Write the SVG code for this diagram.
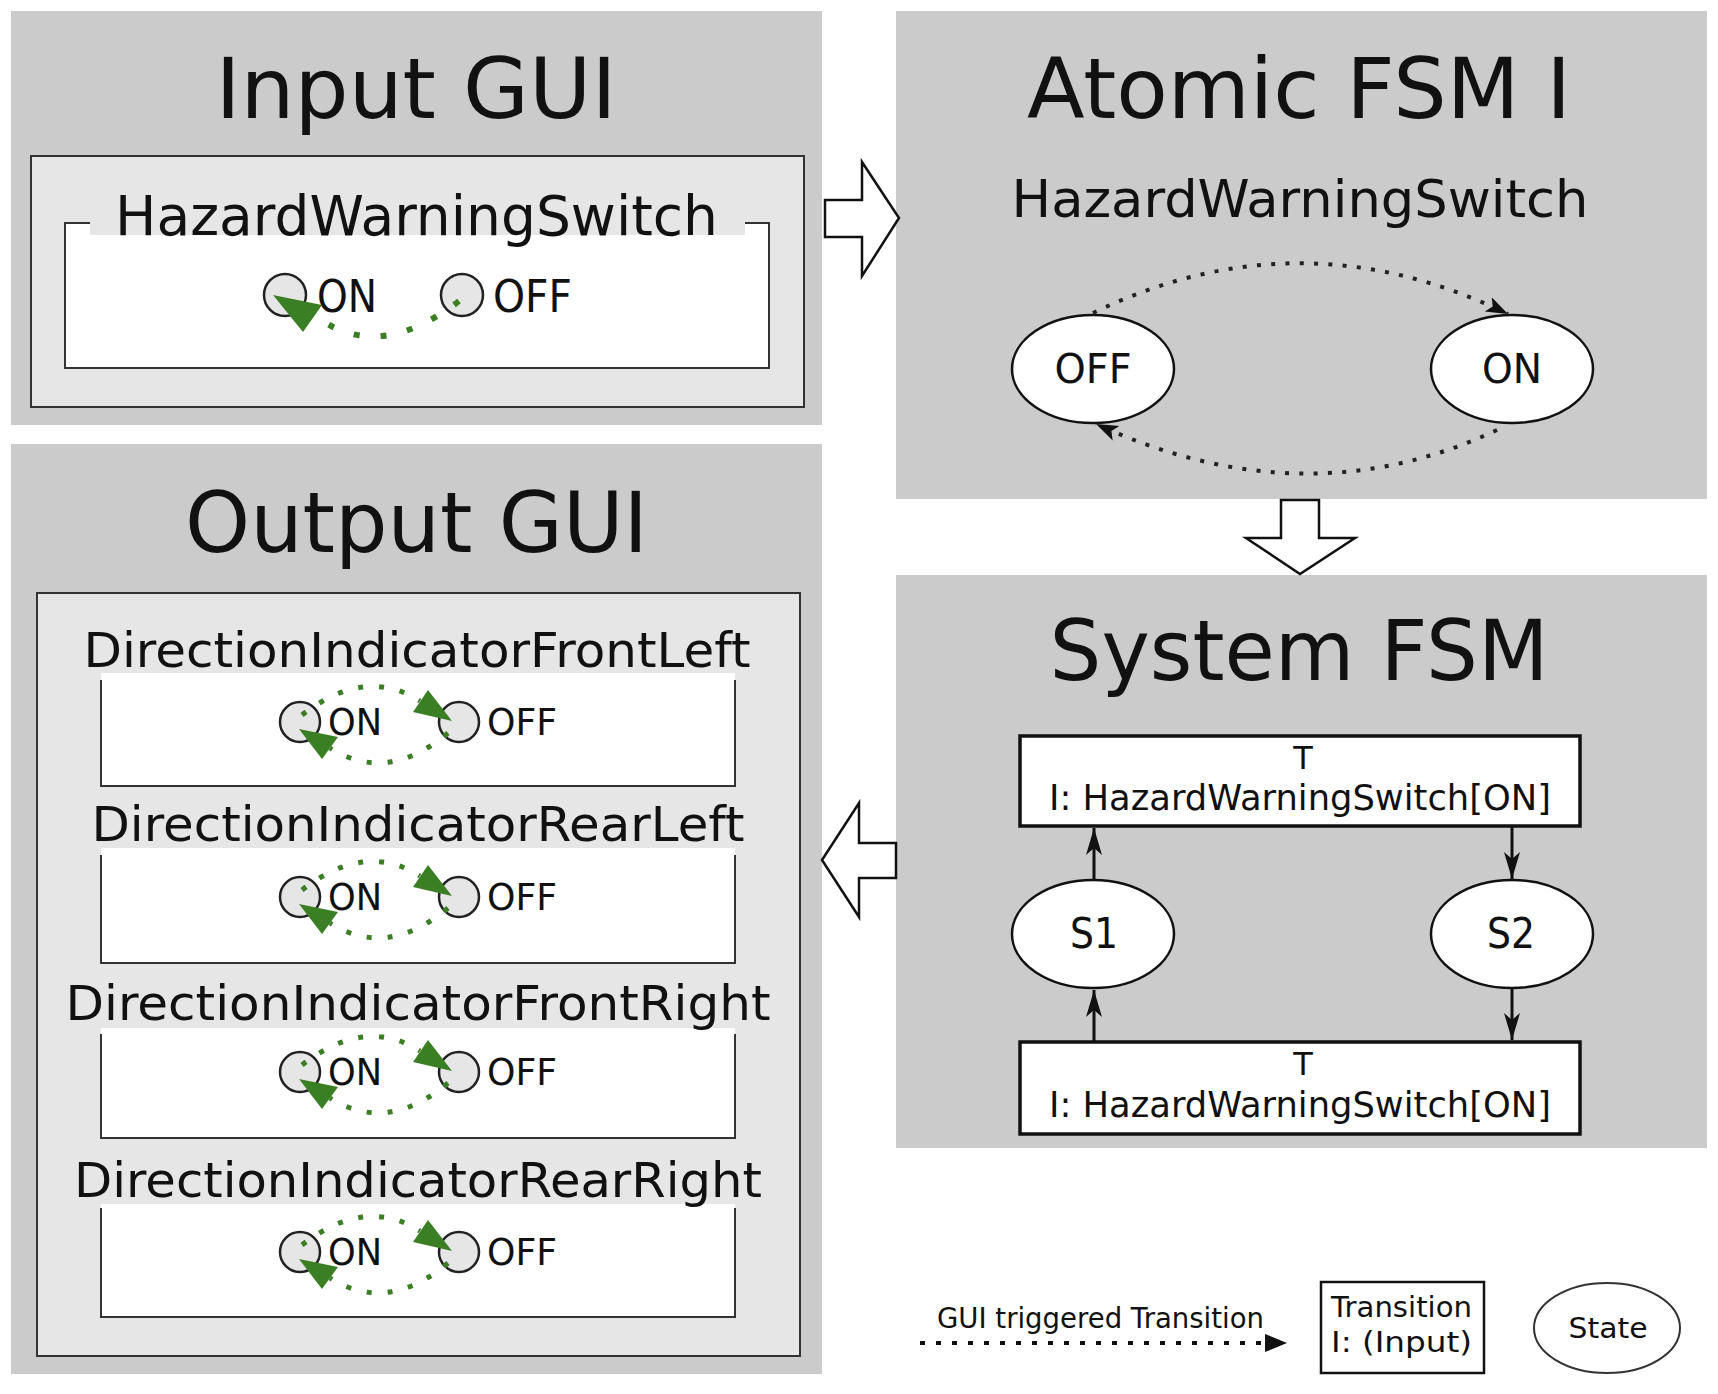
<svg xmlns="http://www.w3.org/2000/svg" width="1718" height="1394" viewBox="0 0 1718 1394">
<defs>
<style>
text{font-family:"DejaVu Sans","Liberation Sans",sans-serif;fill:#111}
.panel{fill:#cbcbcb}
.inner{fill:#e6e6e6;stroke:#333;stroke-width:2}
.band{fill:#e6e6e6}
.gbox{fill:#fff}
.gline{fill:none;stroke:#333;stroke-width:2}
.title{font-size:84px;text-anchor:middle}
.radio{fill:#e6e6e6;stroke:#222;stroke-width:2.5}
.gdot{fill:none;stroke:#3b7f24;stroke-linecap:butt}
.ghead{fill:#3b7f24}
.state{fill:#fff;stroke:#111;stroke-width:2.5}
.trans{fill:#fff;stroke:#111;stroke-width:3.5}
.bdot{fill:none;stroke:#222;stroke-width:4;stroke-dasharray:4 10.3}
.edge{fill:none;stroke:#111;stroke-width:3}
.big{fill:#fff;stroke:#111;stroke-width:2.5;stroke-linejoin:miter}
</style>
<marker id="bh" markerUnits="userSpaceOnUse" markerWidth="24" markerHeight="20" viewBox="0 0 24 20" refX="22" refY="10" orient="auto">
<path d="M0,2 L22,10 L0,18 L5,10 z" fill="#111"/>
</marker>
<marker id="sh" markerUnits="userSpaceOnUse" markerWidth="28" markerHeight="18" viewBox="0 0 28 18" refX="27" refY="9" orient="auto">
<path d="M0,1 L27,9 L0,17 L7,9 z" fill="#111"/>
</marker>
<g id="radioOut">
<circle class="radio" cx="0" cy="0" r="20"/>
<circle class="radio" cx="159" cy="0" r="20"/>
<text x="28" y="13" font-size="38" textLength="54" lengthAdjust="spacingAndGlyphs">ON</text>
<text x="187" y="13" font-size="38" textLength="70" lengthAdjust="spacingAndGlyphs">OFF</text>
<path class="gdot" d="M2,-7 Q65,-56 120,-21" stroke-width="5" stroke-dasharray="5 16"/>
<polygon class="ghead" points="128,-32 113,-10 152,-1"/>
<path class="gdot" d="M148,11 Q87,62 30,26" stroke-width="5" stroke-dasharray="5 16"/>
<polygon class="ghead" points="-1,7 38,15 22,37"/>
</g>
</defs>

<rect width="1718" height="1394" fill="#fff"/>

<g id="input-gui">
<rect class="panel" x="11" y="11" width="811" height="414"/>
<text class="title" x="416" y="118" textLength="401" lengthAdjust="spacingAndGlyphs">Input GUI</text>
<rect class="inner" x="31" y="156" width="773" height="251"/>
<g id="hazard-switch-gui">
<rect class="gbox" x="65" y="223" width="704" height="145"/>
<path class="gline" d="M90,223 H65 V368 H769 V223 H745"/>
<rect class="band" x="90" y="185" width="655" height="50"/>
<text x="416.5" y="235" font-size="55" text-anchor="middle" textLength="603" lengthAdjust="spacingAndGlyphs">HazardWarningSwitch</text>
<circle class="radio" cx="285" cy="295" r="21"/>
<circle class="radio" cx="462" cy="295" r="21"/>
<text x="317" y="312" font-size="44" textLength="60" lengthAdjust="spacingAndGlyphs">ON</text>
<text x="493" y="312" font-size="44" textLength="79" lengthAdjust="spacingAndGlyphs">OFF</text>
<path class="gdot" d="M459,301 Q380,362 318,318" stroke-width="6" stroke-dasharray="6 21"/>
<polygon class="ghead" points="273,295 322,305 303,332"/>
</g>
</g>

<g id="output-gui">
<rect class="panel" x="11" y="444" width="811" height="930"/>
<text class="title" x="416.5" y="552" textLength="463" lengthAdjust="spacingAndGlyphs">Output GUI</text>
<rect class="inner" x="37" y="593" width="763" height="763"/>
<g id="di-front-left">
<rect class="gbox" x="101" y="673" width="634" height="113"/>
<path class="gline" d="M101,680 V786 H735 V680"/>
<text x="417" y="667" font-size="48" text-anchor="middle" textLength="667" lengthAdjust="spacingAndGlyphs">DirectionIndicatorFrontLeft</text>
<use href="#radioOut" x="300" y="722"/>
</g>
<g id="di-rear-left">
<rect class="gbox" x="101" y="848" width="634" height="115"/>
<path class="gline" d="M101,855 V963 H735 V855"/>
<text x="418" y="841" font-size="48" text-anchor="middle" textLength="653" lengthAdjust="spacingAndGlyphs">DirectionIndicatorRearLeft</text>
<use href="#radioOut" x="300" y="897"/>
</g>
<g id="di-front-right">
<rect class="gbox" x="101" y="1028" width="634" height="110"/>
<path class="gline" d="M101,1034 V1138 H735 V1034"/>
<text x="418" y="1020" font-size="48" text-anchor="middle" textLength="705" lengthAdjust="spacingAndGlyphs">DirectionIndicatorFrontRight</text>
<use href="#radioOut" x="300" y="1072"/>
</g>
<g id="di-rear-right">
<rect class="gbox" x="101" y="1204" width="634" height="113"/>
<path class="gline" d="M101,1208 V1317 H735 V1208"/>
<text x="418" y="1197" font-size="48" text-anchor="middle" textLength="688" lengthAdjust="spacingAndGlyphs">DirectionIndicatorRearRight</text>
<use href="#radioOut" x="300" y="1252"/>
</g>
</g>

<g id="atomic-fsm">
<rect class="panel" x="896" y="11" width="811" height="488"/>
<text class="title" x="1299" y="118" textLength="544" lengthAdjust="spacingAndGlyphs">Atomic FSM I</text>
<text x="1300" y="217" font-size="52" text-anchor="middle" textLength="577" lengthAdjust="spacingAndGlyphs">HazardWarningSwitch</text>
<g id="atomic-off">
<ellipse class="state" cx="1093" cy="369" rx="81" ry="54"/>
<text x="1093" y="383" font-size="40" text-anchor="middle" textLength="77" lengthAdjust="spacingAndGlyphs">OFF</text>
</g>
<g id="atomic-on">
<ellipse class="state" cx="1512" cy="369" rx="81" ry="54"/>
<text x="1512" y="383" font-size="40" text-anchor="middle" textLength="60" lengthAdjust="spacingAndGlyphs">ON</text>
</g>
</g>

<g id="system-fsm">
<rect class="panel" x="896" y="575" width="811" height="573"/>
<text class="title" x="1299" y="680" textLength="499" lengthAdjust="spacingAndGlyphs">System FSM</text>
<g id="t-top">
<rect class="trans" x="1020" y="736" width="560" height="90"/>
<text x="1303" y="769" font-size="32" text-anchor="middle">T</text>
<text x="1049" y="810" font-size="35" textLength="502" lengthAdjust="spacingAndGlyphs">I:  HazardWarningSwitch[ON]</text>
</g>
<g id="t-bottom">
<rect class="trans" x="1020" y="1042" width="560" height="92"/>
<text x="1303" y="1075" font-size="32" text-anchor="middle">T</text>
<text x="1049" y="1117" font-size="35" textLength="502" lengthAdjust="spacingAndGlyphs">I:  HazardWarningSwitch[ON]</text>
</g>
<g id="s1">
<ellipse class="state" cx="1093" cy="934" rx="81" ry="54"/>
<text x="1094" y="948" font-size="43" text-anchor="middle" textLength="48" lengthAdjust="spacingAndGlyphs">S1</text>
</g>
<g id="s2">
<ellipse class="state" cx="1512" cy="934" rx="81" ry="54"/>
<text x="1511" y="948" font-size="43" text-anchor="middle" textLength="48" lengthAdjust="spacingAndGlyphs">S2</text>
</g>
</g>

<g id="connectors">
<path class="bdot" d="M1093,313 Q1300,213 1508,314" marker-end="url(#bh)"/>
<path class="bdot" d="M1497,430 Q1305,520 1096,424" marker-end="url(#bh)"/>
<line class="edge" x1="1094" y1="880" x2="1094" y2="828" marker-end="url(#sh)"/>
<line class="edge" x1="1094" y1="1042" x2="1094" y2="990" marker-end="url(#sh)"/>
<line class="edge" x1="1512" y1="827" x2="1512" y2="879" marker-end="url(#sh)"/>
<line class="edge" x1="1512" y1="988" x2="1512" y2="1040" marker-end="url(#sh)"/>
<polygon class="big" points="825,200 862,200 862,162 899,218 862,276 862,237 825,237"/>
<polygon class="big" points="1281,500 1319,500 1319,538 1355,538 1300,574 1246,538 1281,538"/>
<polygon class="big" points="896,843 859,843 859,803 822,860 859,917 859,878 896,878"/>
</g>

<g id="legend">
<text x="937" y="1328" font-size="29" textLength="327" lengthAdjust="spacingAndGlyphs">GUI triggered Transition</text>
<line x1="920" y1="1343" x2="1266" y2="1343" stroke="#111" stroke-width="4" stroke-dasharray="5 11"/>
<polygon points="1265,1334 1287,1343 1265,1352" fill="#111"/>
<rect x="1321" y="1282" width="163" height="91" fill="#fff" stroke="#111" stroke-width="2.5"/>
<text x="1331" y="1317" font-size="29" textLength="141" lengthAdjust="spacingAndGlyphs">Transition</text>
<text x="1331" y="1352" font-size="29" textLength="141" lengthAdjust="spacingAndGlyphs">I: (Input)</text>
<ellipse cx="1607" cy="1328" rx="73" ry="45" fill="#fff" stroke="#333" stroke-width="2"/>
<text x="1608" y="1338" font-size="29" text-anchor="middle" textLength="79" lengthAdjust="spacingAndGlyphs">State</text>
</g>
</svg>
